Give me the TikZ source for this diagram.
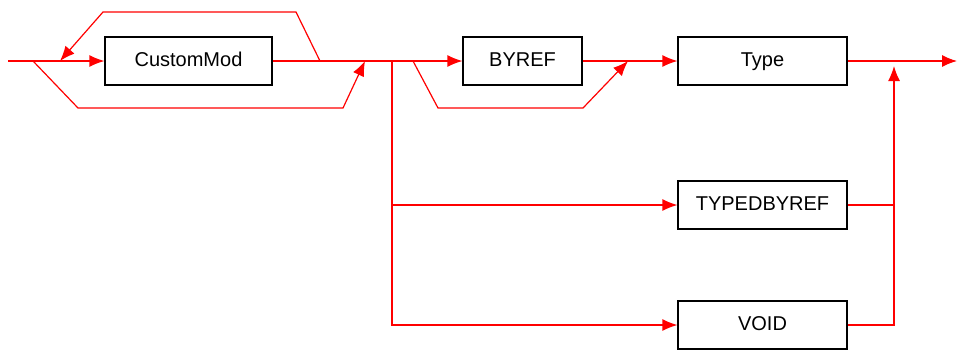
\documentclass[tikz,border=0pt]{standalone}
\usepackage{fontspec}
\setmainfont{Liberation Sans}
\usetikzlibrary{arrows.meta}

\begin{document}
\begin{tikzpicture}[x=1pt, y=-1pt,
        box/.style={draw, line width=1.2pt, minimum height=48pt, inner sep=0pt, text height=14pt, text depth=4pt, font=\fontsize{20}{24}\selectfont},
        wire/.style={red, line width=1.2pt},
        arr/.style={wire, -{Latex[length=15pt, width=12pt]}}]
        \useasboundingbox (0,0) rectangle (957,349);

        % Boxes
        \node[box, minimum width=167pt] (cmod) at (188.5, 61) {CustomMod};
        \node[box, minimum width=119pt] (byref) at (522.5, 61) {BYREF};
        \node[box, minimum width=169pt] (type) at (762.5, 61) {Type};
        \node[box, minimum width=169pt] (tbr) at (762.5, 205) {TYPEDBYREF};
        \node[box, minimum width=169pt] (void) at (762.5, 325) {VOID};

        % Points on the main line
        \coordinate (in) at (8, 61);
        \coordinate (split) at (33, 61);
        \coordinate (back) at (60, 61);
        \coordinate (again) at (320, 61);
        \coordinate (join1) at (365, 61);
        \coordinate (fork) at (392, 61);
        \coordinate (skip) at (413, 61);
        \coordinate (join2) at (628, 61);
        \coordinate (join3) at (894, 66);
        \coordinate (out) at (957, 61);

        % Main line
        \draw[wire] (in) -- (split);
        \draw[arr] (split) -- (cmod.west);
        \draw[wire] (cmod.east) -- (fork);
        \draw[arr] (fork) -- (byref.west);
        \draw[arr] (byref.east) -- (type.west);
        \draw[arr] (type.east) -- (out);

        % Repeat and bypass of CustomMod
        \draw[arr] (again) -- (296, 12) -- (103, 12) -- (back);
        \draw[arr] (split) -- (78, 108) -- (343, 108) -- (join1);

        % Bypass of BYREF
        \draw[arr] (skip) -- (438, 108) -- (583, 108) -- (join2);

        % Other choices
        \draw[arr] (fork) |- (tbr.west);
        \draw[arr] (fork) |- (void.west);
        \draw[wire] (tbr.east) -- (tbr.east -| join3);
        \draw[arr] (void.east) -| (join3);
\end{tikzpicture}
\end{document}
